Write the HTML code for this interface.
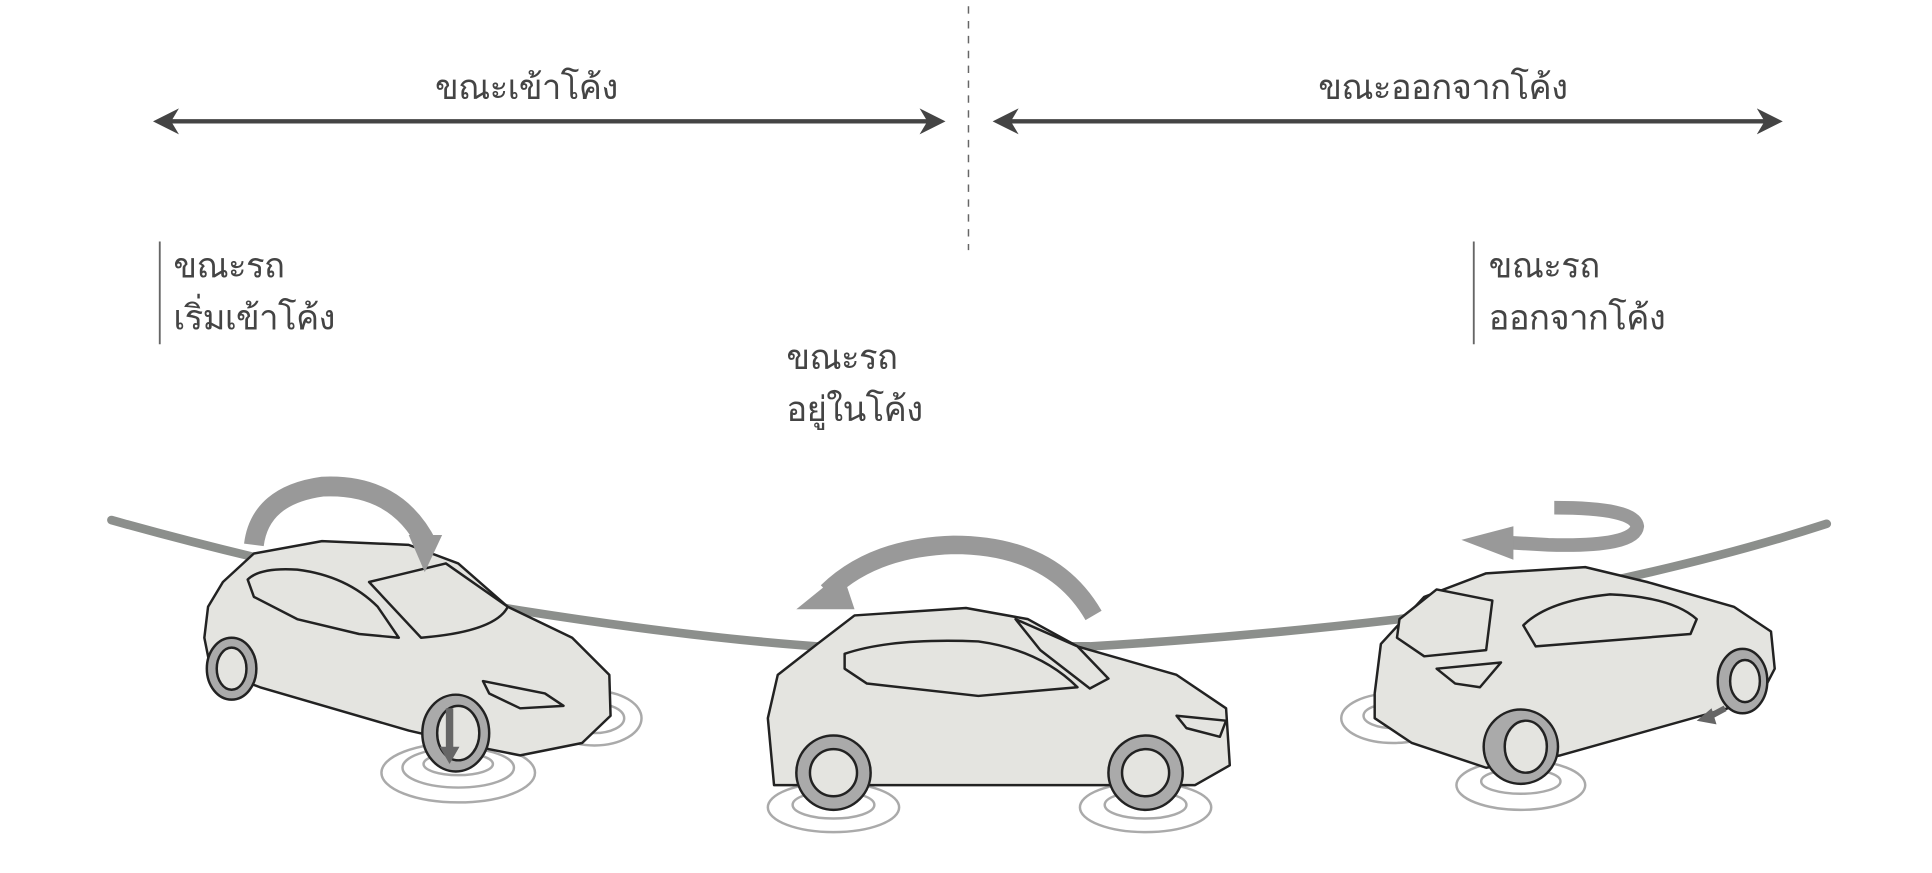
<!DOCTYPE html>
<html><head><meta charset="utf-8"><style>
html,body{margin:0;padding:0;background:#fff;}
svg{display:block;}
text{font-family:"Liberation Sans","DejaVu Sans",sans-serif;fill:#444;letter-spacing:-0.5px;}
</style></head><body>
<svg width="1932" height="873" viewBox="0 0 1560 705" preserveAspectRatio="none" xmlns="http://www.w3.org/2000/svg">
<defs>
<marker id="ah" viewBox="0 0 10 10" refX="5" refY="5" markerWidth="6" markerHeight="6" orient="auto-start-reverse"><path d="M0,0 L10,5 L0,10 L3,5z" fill="#444"/></marker>
</defs>
<line x1="782" y1="5" x2="782" y2="202" stroke="#666" stroke-width="1.2" stroke-dasharray="6,6"/>
<line x1="134" y1="98" x2="753" y2="98" stroke="#444" stroke-width="3.5" marker-start="url(#ah)" marker-end="url(#ah)"/>
<line x1="812" y1="98" x2="1429" y2="98" stroke="#444" stroke-width="3.5" marker-start="url(#ah)" marker-end="url(#ah)"/>
<text x="425" y="80" font-size="28" text-anchor="middle">ขณะเข้าโค้ง</text>
<text x="1165" y="80" font-size="28" text-anchor="middle">ขณะออกจากโค้ง</text>
<line x1="129" y1="195" x2="129" y2="278" stroke="#666" stroke-width="1.5"/>
<text x="140" y="224" font-size="28">ขณะรถ</text>
<text x="140" y="266" font-size="28">เริ่มเข้าโค้ง</text>
<text x="635" y="298" font-size="28">ขณะรถ</text>
<text x="635" y="340" font-size="28">อยู่ในโค้ง</text>
<line x1="1190" y1="195" x2="1190" y2="278" stroke="#666" stroke-width="1.5"/>
<text x="1202" y="224" font-size="28">ขณะรถ</text>
<text x="1202" y="266" font-size="28">ออกจากโค้ง</text>
<path d="M90,420 Q250,465 420,493 Q560,515 660,522 L880,522 Q1000,515 1130,500 Q1330,470 1475,423" fill="none" stroke="#8c8f8c" stroke-width="7" stroke-linecap="round"/>
<g fill="none" stroke="#aaa" stroke-width="2">
<ellipse cx="370" cy="624" rx="62" ry="24"/><ellipse cx="370" cy="620" rx="45" ry="16"/><ellipse cx="370" cy="617" rx="28" ry="9"/>
<ellipse cx="480" cy="580" rx="38" ry="22"/><ellipse cx="480" cy="580" rx="24" ry="12"/>
<ellipse cx="673" cy="652" rx="53" ry="20"/><ellipse cx="673" cy="650" rx="33" ry="11"/>
<ellipse cx="925" cy="652" rx="53" ry="20"/><ellipse cx="925" cy="650" rx="33" ry="11"/>
<ellipse cx="1125" cy="580" rx="42" ry="20"/><ellipse cx="1125" cy="578" rx="24" ry="10"/>
<ellipse cx="1228" cy="634" rx="52" ry="20"/><ellipse cx="1228" cy="631" rx="32" ry="10"/>
</g>
<g stroke="#222" stroke-width="2" stroke-linejoin="round">
<path d="M168,490 L180,470 L205,447 L260,437 L330,440 L370,455 L410,490 L462,515 L492,545 L493,578 L470,600 L420,610 L395,605 L330,590 L210,555 L170,540 L165,515z" fill="#e4e4e0"/>
<path d="M200,468 Q210,458 240,460 Q280,465 305,490 L322,515 L290,512 L240,500 L205,482z" fill="#e4e4e0"/>
<path d="M298,470 L360,455 L410,490 Q400,510 340,515z" fill="#e4e4e0"/>
<path d="M390,550 L440,560 L455,570 L420,572 L395,560z" fill="#e4e4e0"/>
<ellipse cx="187" cy="540" rx="20" ry="25" fill="#aaa"/><ellipse cx="187" cy="540" rx="12" ry="17" fill="#e4e4e0"/>
<ellipse cx="368" cy="592" rx="27" ry="31" fill="#aaa"/><ellipse cx="370" cy="592" rx="17" ry="22" fill="#e4e4e0"/>
</g>
<path d="M363,572 L363,605" stroke="#666" stroke-width="6"/><path d="M355,603 L371,603 L363,617z" fill="#666"/>
<path d="M205,440 Q210,400 260,393 Q320,390 345,440" fill="none" stroke="#999" stroke-width="16"/>
<path d="M330,432 L357,432 L343,462z" fill="#999"/>
<g stroke="#222" stroke-width="2" stroke-linejoin="round">
<path d="M620,580 L628,545 L660,520 L690,497 L780,491 L830,500 L870,522 L950,545 L990,572 L993,618 L965,634 L625,634z" fill="#e4e4e0"/>
<path d="M682,528 Q720,515 790,518 Q840,525 870,555 L790,562 L700,552 L682,540z" fill="#e4e4e0"/>
<path d="M820,500 L870,522 L895,548 L880,556 L840,525z" fill="#e4e4e0"/>
<path d="M950,578 L990,582 L985,595 L958,588z" fill="#e4e4e0"/>
<circle cx="673" cy="624" r="30" fill="#aaa"/><circle cx="673" cy="624" r="19" fill="#e4e4e0"/>
<circle cx="925" cy="624" r="30" fill="#aaa"/><circle cx="925" cy="624" r="19" fill="#e4e4e0"/>
</g>
<path d="M883,497 Q850,440 770,440 Q705,442 668,478" fill="none" stroke="#999" stroke-width="15"/>
<path d="M680,462 L643,492 L690,492z" fill="#999"/>
<g stroke="#222" stroke-width="2" stroke-linejoin="round">
<path d="M1110,560 L1115,520 L1150,482 L1200,463 L1280,458 L1330,470 L1400,490 L1430,510 L1433,540 L1420,565 L1260,610 L1200,620 L1140,600 L1110,580z" fill="#e4e4e0"/>
<path d="M1130,500 L1160,476 L1205,485 L1200,525 L1150,530 L1128,515z" fill="#e4e4e0"/>
<path d="M1230,505 Q1250,485 1300,480 Q1350,482 1370,500 L1365,512 L1240,522z" fill="#e4e4e0"/>
<path d="M1160,540 L1212,535 L1195,555 L1175,552z" fill="#e4e4e0"/>
<circle cx="1228" cy="603" r="30" fill="#aaa"/><ellipse cx="1232" cy="603" rx="17" ry="21" fill="#e4e4e0"/>
<ellipse cx="1407" cy="550" rx="20" ry="26" fill="#aaa"/><ellipse cx="1409" cy="550" rx="12" ry="17" fill="#e4e4e0"/>
</g>
<path d="M1393,572 L1378,580" stroke="#666" stroke-width="5"/><path d="M1370,582 L1382,572 L1386,585z" fill="#666"/>
<path d="M1255,410 Q1320,410 1322,425 Q1320,442 1250,440 L1215,438" fill="none" stroke="#999" stroke-width="11"/>
<path d="M1222,425 L1180,436 L1222,452z" fill="#999"/>
</svg>
</body></html>
